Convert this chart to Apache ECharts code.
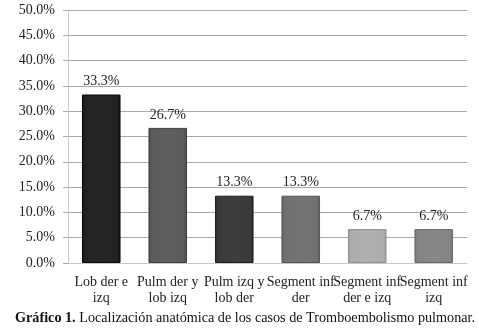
<!DOCTYPE html>
<html><head><meta charset="utf-8">
<script src="https://cdn.jsdelivr.net/npm/echarts@6/dist/echarts.min.js"></script>
<style>html,body{margin:0;padding:0;background:#fff}#c{width:479px;height:331px}</style>
</head><body><div id="c"></div>
<script>
var categories = ['Lob der e\nizq', 'Pulm der y\nlob izq', 'Pulm izq y\nlob der', 'Segment inf\nder', 'Segment inf\nder e izq', 'Segment inf\nizq'];
var values = [33.3, 26.7, 13.3, 13.3, 6.7, 6.7];
var barColors = ['#1c1c1c', '#555555', '#333333', '#6a6a6a', '#a6a6a6', '#7e7e7e'];
var captionBold = 'Gráfico 1.';
var captionText = ' Localización anatómica de los casos de Tromboembolismo pulmonar.';

function shade(hex, amt) {
  var n = parseInt(hex.slice(1), 16);
  var r = Math.max(0, Math.min(255, (n >> 16) + amt));
  var g = Math.max(0, Math.min(255, ((n >> 8) & 255) + amt));
  var b = Math.max(0, Math.min(255, (n & 255) + amt));
  return 'rgb(' + r + ',' + g + ',' + b + ')';
}

var chart = echarts.init(document.getElementById('c'));
var font = 'Liberation Serif';
chart.setOption({
  animation: false,
  title: {
    text: '{b|' + captionBold + '}{n|' + captionText + '}',
    left: 15, top: 311, padding: 0,
    textStyle: {
      fontWeight: 'normal',
      rich: {
        b: { fontFamily: font, fontWeight: 'bold', fontSize: 14.2, color: '#111' },
        n: { fontFamily: font, fontWeight: 'normal', fontSize: 14.2, color: '#111' }
      }
    }
  },
  grid: { left: 68, right: 12, top: 10, bottom: 68 },
  xAxis: {
    type: 'category',
    data: categories,
    axisLine: { lineStyle: { color: '#c8c8c8' } },
    axisTick: { show: false },
    axisLabel: { fontFamily: font, fontSize: 14, color: '#222', lineHeight: 16, margin: 11, interval: 0 }
  },
  yAxis: {
    type: 'value',
    min: 0, max: 50, interval: 5,
    axisLine: { show: true, lineStyle: { color: '#c8c8c8' } },
    axisTick: { show: true, length: 5, lineStyle: { color: '#a8a8a8' } },
    splitLine: { lineStyle: { color: '#a8a8a8' } },
    axisLabel: {
      fontFamily: font, fontSize: 14, color: '#222', margin: 13,
      formatter: function (v) { return v.toFixed(1) + '%'; }
    }
  },
  series: [{
    type: 'bar',
    barWidth: '58%',
    data: values.map(function (v, i) {
      var c = barColors[i];
      return {
        value: v,
        itemStyle: {
          color: {
            type: 'linear', x: 0, y: 0, x2: 1, y2: 0,
            colorStops: [
              { offset: 0, color: shade(c, -12) },
              { offset: 0.08, color: shade(c, 6) },
              { offset: 0.5, color: shade(c, 10) },
              { offset: 0.92, color: shade(c, 6) },
              { offset: 1, color: shade(c, -14) }
            ]
          },
          borderColor: shade(c, -20),
          borderWidth: 1
        }
      };
    }),
    label: {
      show: true, position: 'top', distance: 6,
      fontFamily: font, fontSize: 14, color: '#222',
      formatter: function (p) { return p.value.toFixed(1) + '%'; }
    }
  }]
});
</script></body></html>
